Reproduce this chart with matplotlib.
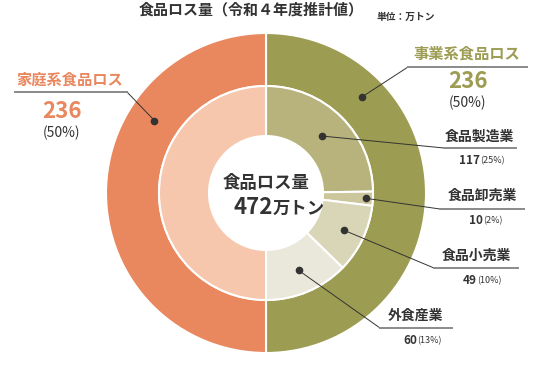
import numpy as np
import matplotlib
matplotlib.use("Agg")
import matplotlib.pyplot as plt

plt.rcParams['font.family'] = ['Noto Sans CJK JP', 'DejaVu Sans']

# data (万トン)
outer_labels = ["事業系食品ロス", "家庭系食品ロス"]
outer_values = [236, 236]
inner_labels = ["食品製造業", "食品卸売業", "食品小売業", "外食産業", "家庭系"]
inner_values = [117, 10, 49, 60, 236]
total = 472

outer_colors = ["#9c9c52", "#e9875f"]
inner_colors = ["#b8b27c", "#cbc69c", "#d9d6b8", "#eae8da", "#f6c6ad"]
dark = "#333333"

W, H = 558, 367
fig = plt.figure(figsize=(W / 100, H / 100), dpi=100)
ax = fig.add_axes([0, 0, 1, 1])


def P(x, y):
    # pixel position (top-left origin) -> data coords
    return x, H - y


cx, cy = P(266, 193)
R = 160

ax.pie(outer_values, colors=outer_colors, startangle=90, counterclock=False,
       radius=R, center=(cx, cy), frame=True,
       wedgeprops=dict(width=53, edgecolor='white', linewidth=1.5))
ax.pie(inner_values, colors=inner_colors, startangle=90, counterclock=False,
       radius=107, center=(cx, cy), frame=True,
       wedgeprops=dict(width=50, edgecolor='white', linewidth=1.5))
ax.set_xlim(0, W)
ax.set_ylim(0, H)
ax.set_aspect('equal')
ax.axis('off')


def polar(ang, r):
    a = np.deg2rad(ang)
    return cx + r * np.cos(a), cy + r * np.sin(a)


def pct(v):
    return f"{round(v / total * 100)}%"


# mid angles of inner wedges
bounds = 90 - np.cumsum([0] + inner_values) / total * 360
mids = (bounds[:-1] + bounds[1:]) / 2

# title
ax.text(*P(251, 9), "食品ロス量（令和４年度推計値）", ha='center', va='center',
        fontsize=10.8, fontweight='bold', color=dark)
ax.text(*P(406, 17), "単位：万トン", ha='center', va='center',
        fontsize=7, fontweight='bold', color=dark)

# centre label
ax.text(*P(266, 183), "食品ロス量", ha='center', va='center',
        fontsize=12.5, fontweight='bold', color=dark)
ax.text(*P(273, 208), "472", ha='right', va='center',
        fontsize=16, fontweight='bold', color=dark)
ax.text(*P(273, 209), "万トン", ha='left', va='center',
        fontsize=12.5, fontweight='bold', color=dark)


def leader(dot, elbow, end):
    xs = [dot[0], elbow[0], end[0]]
    ys = [dot[1], elbow[1], end[1]]
    ax.plot(xs[:2], ys[:2], color=dark, lw=0.7, zorder=4)
    ax.plot(xs[1:], ys[1:], color="#8a8a8a", lw=1.4, zorder=4)
    ax.plot(*dot, 'o', color=dark, ms=4.5, zorder=5)


# household (outer left)
leader(polar(147, 133), P(127, 92), P(15, 92))
ax.text(*P(70, 80), outer_labels[1], ha='center', va='center',
        fontsize=11, fontweight='bold', color=outer_colors[1])
ax.text(*P(62, 112), str(outer_values[1]), ha='center', va='center',
        fontsize=16, fontweight='bold', color=outer_colors[1])
ax.text(*P(62, 133), f"({pct(outer_values[1])})", ha='center', va='center',
        fontsize=10, color=dark)

# business (outer right)
leader(polar(45, 136), P(408, 67), P(527, 67))
ax.text(*P(467, 54), outer_labels[0], ha='center', va='center',
        fontsize=11, fontweight='bold', color=outer_colors[0])
ax.text(*P(468, 82), str(outer_values[0]), ha='center', va='center',
        fontsize=16, fontweight='bold', color=outer_colors[0])
ax.text(*P(468, 103), f"({pct(outer_values[0])})", ha='center', va='center',
        fontsize=10, color=dark)

# inner sector labels
lab_pos = [
    # dot radius, elbow, line end, text centre, text y, value y
    (80, P(444, 148), P(516, 148), 479, 137, 160),
    (100, P(440, 209), P(524, 209), 482, 196, 220),
    (86, P(434, 268), P(518, 268), 476, 256, 280),
    (84, P(380, 328), P(452, 328), 416, 316, 340),
]
for i, (r, elbow, end, tx, ty, vy) in enumerate(lab_pos):
    leader(polar(mids[i], r), elbow, end)
    ax.text(*P(tx, ty), inner_labels[i], ha='center', va='center',
            fontsize=10, fontweight='bold', color=dark)
    ax.text(*P(tx + 1, vy), str(inner_values[i]), ha='right', va='center',
            fontsize=8.5, fontweight='bold', color=dark)
    ax.text(*P(tx + 1, vy + 1), f"({pct(inner_values[i])})", ha='left', va='center',
            fontsize=6.5, color=dark)

fig.savefig("out.png", dpi=100)
